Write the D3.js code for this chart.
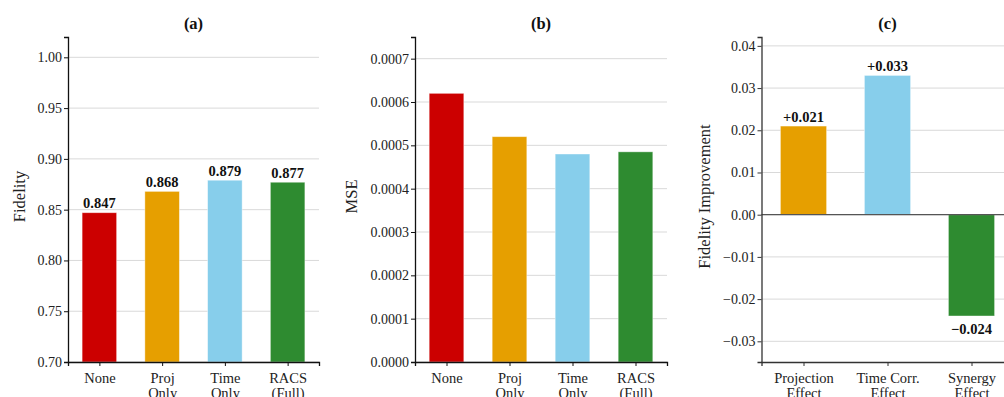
<!DOCTYPE html>
<html>
<head>
<meta charset="utf-8">
<script src="https://cdn.jsdelivr.net/npm/d3@7"></script>
<style>
  html, body { margin: 0; padding: 0; background: #fff; }
  svg { display: block; font-family: "Liberation Serif", "DejaVu Serif", serif; }
</style>
</head>
<body>
<svg id="chart" width="1004" height="397"></svg>
<script>
// Ablation results
const ablationLabels = [["None"], ["Proj", "Only"], ["Time", "Only"], ["RACS", "(Full)"]];
const fidelityValues = [0.847, 0.868, 0.879, 0.877];
const mseValues = [0.00062, 0.00052, 0.00048, 0.000485];
const ablationColors = ["#cc0000", "#e69f00", "#87ceeb", "#2e8b30"];

// Component contributions
const effectLabels = [["Projection", "Effect"], ["Time Corr.", "Effect"], ["Synergy", "Effect"]];
const effectValues = [0.021, 0.033, -0.024];
const effectColors = ["#e69f00", "#87ceeb", "#2e8b30"];

const fidelityTicks = [0.70, 0.75, 0.80, 0.85, 0.90, 0.95, 1.00];
const mseTicks = [0, 0.0001, 0.0002, 0.0003, 0.0004, 0.0005, 0.0006, 0.0007];
const effectTicks = [-0.03, -0.02, -0.01, 0, 0.01, 0.02, 0.03, 0.04];

const svg = d3.select("#chart");
const plotTop = 37, plotBottom = 362;
const FONT = "Liberation Serif";

function panel(opts) {
  const g = svg.append("g");
  const n = opts.values.length;
  const x = d3.scaleLinear().domain([-0.5, n - 0.5]).range([opts.left, opts.right]);
  const y = d3.scaleLinear().domain(opts.yDomain).range([plotBottom, plotTop]);
  const step = x(1) - x(0);
  const bw = step * 0.55;

  // grid
  g.append("g").selectAll("line").data(opts.ticks).join("line")
    .attr("x1", opts.left).attr("x2", opts.right)
    .attr("y1", d => y(d)).attr("y2", d => y(d))
    .attr("stroke", "#d9d9d9").attr("stroke-width", 1);

  // bars
  g.append("g").selectAll("rect").data(opts.values).join("rect")
    .attr("x", (d, i) => x(i) - bw / 2)
    .attr("width", bw)
    .attr("y", d => Math.min(y(d), y(opts.base)))
    .attr("height", d => Math.abs(y(d) - y(opts.base)))
    .attr("fill", (d, i) => opts.colors[i])
    .attr("stroke", "#ffffff").attr("stroke-opacity", 0.5).attr("stroke-width", 0.8);

  if (opts.zeroLine) {
    g.append("line")
      .attr("x1", opts.left).attr("x2", opts.right)
      .attr("y1", y(0)).attr("y2", y(0))
      .attr("stroke", "#555").attr("stroke-width", 1.2);
  }

  // value labels
  if (opts.labelFormat) {
    g.append("g").selectAll("text").data(opts.values).join("text")
      .attr("x", (d, i) => x(i))
      .attr("y", d => d >= 0 ? y(d) - 4.5 : y(d) + 18)
      .attr("text-anchor", "middle")
      .attr("font-family", FONT)
      .attr("font-size", 14.5).attr("font-weight", "bold")
      .attr("fill", "#111")
      .text(opts.labelFormat);
  }

  // y axis
  const ya = d3.axisLeft(y).tickValues(opts.ticks).tickFormat(opts.tickFormat).tickSizeOuter(0).tickSize(4);
  const yg = g.append("g").attr("transform", `translate(${opts.left},0)`).call(ya);
  yg.select(".domain").attr("stroke", opts.spine).attr("stroke-width", 1.3);
  yg.selectAll(".tick line").attr("stroke", opts.spine).attr("stroke-width", 1);
  yg.selectAll(".tick text").attr("font-size", 14).attr("font-family", FONT)
    .attr("fill", "#222").attr("x", -6);

  // x axis
  const xa = d3.axisBottom(x).tickValues(d3.range(n)).tickFormat("").tickSizeOuter(0).tickSize(4);
  const xg = g.append("g").attr("transform", `translate(0,${plotBottom})`).call(xa);
  xg.select(".domain").attr("stroke", opts.spine).attr("stroke-width", 1.3);
  xg.selectAll(".tick line").attr("stroke", opts.spine).attr("stroke-width", 1);
  xg.selectAll(".tick").each(function (d) {
    const t = d3.select(this).append("text")
      .attr("text-anchor", "middle").attr("font-size", 14.5).attr("fill", "#222")
      .attr("font-family", FONT);
    opts.categories[d].forEach((line, k) => {
      t.append("tspan").attr("x", 0).attr("y", 20.5 + k * 15.5).text(line);
    });
  });

  // title
  g.append("text")
    .attr("x", (opts.left + opts.right) / 2).attr("y", 29)
    .attr("text-anchor", "middle").attr("font-size", 16.5).attr("font-weight", "bold")
    .attr("font-family", FONT)
    .attr("fill", "#111").text(opts.title);

  // y label
  g.append("text")
    .attr("transform", `translate(${opts.ylabelX},${(plotTop + plotBottom) / 2 - 3}) rotate(-90)`)
    .attr("text-anchor", "middle").attr("font-size", 16.5).attr("fill", "#222")
    .attr("font-family", FONT)
    .text(opts.ylabel);
}

panel({
  left: 68, right: 319, yDomain: [0.70, 1.02], base: 0.70,
  values: fidelityValues, colors: ablationColors, categories: ablationLabels,
  ticks: fidelityTicks, tickFormat: d3.format(".2f"),
  labelFormat: d => d3.format(".3f")(d),
  title: "(a)", ylabel: "Fidelity", ylabelX: 25, spine: "#111"
});

panel({
  left: 415, right: 667, yDomain: [0, 0.00075], base: 0,
  values: mseValues, colors: ablationColors, categories: ablationLabels,
  ticks: mseTicks, tickFormat: d3.format(".4f"),
  labelFormat: null,
  title: "(b)", ylabel: "MSE", ylabelX: 357, spine: "#111"
});

panel({
  left: 761.5, right: 1013.5, yDomain: [-0.0349, 0.0421], base: 0,
  values: effectValues, colors: effectColors, categories: effectLabels,
  ticks: effectTicks, tickFormat: d => d3.format(".2f")(d).replace("-", "\u2212"),
  labelFormat: d => (d >= 0 ? "+" : "\u2212") + d3.format(".3f")(Math.abs(d)),
  title: "(c)", ylabel: "Fidelity Improvement", ylabelX: 710, spine: "#333",
  zeroLine: true
});
</script>
</body>
</html>
